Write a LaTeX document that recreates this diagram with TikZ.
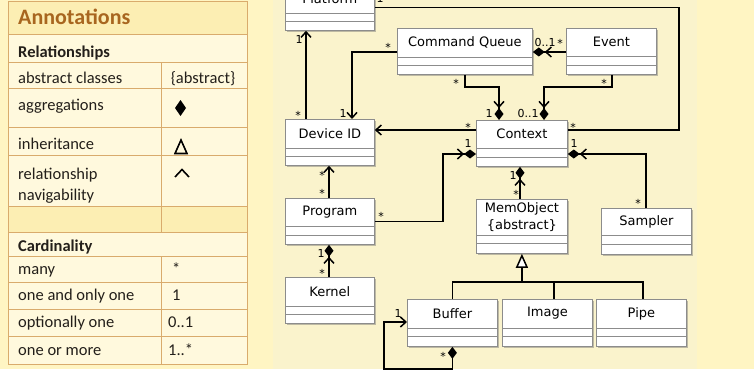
\documentclass[tikz,border=0pt]{standalone}
\usepackage{fontspec}
\setmainfont{Carlito}
\newfontfamily\diagfont{DejaVu Sans}
\usetikzlibrary{arrows.meta,calc,shadows}

\definecolor{outerbg}{HTML}{FFF5C3}
\definecolor{panelbg}{HTML}{FAF3CC}
\definecolor{tblborder}{HTML}{D9AB6C}
\definecolor{tblhead}{HTML}{FCEEB3}
\definecolor{tblcell}{HTML}{FFF9DD}
\definecolor{tbltitle}{HTML}{A8661F}
\definecolor{tbltext}{HTML}{231F1A}
\definecolor{boxline}{HTML}{8C8C8C}

\tikzset{
  classbox/.style={draw=boxline, fill=white, line width=0.8pt, inner sep=0pt,
    drop shadow={shadow xshift=1.8pt, shadow yshift=-1.8pt, opacity=0.45, fill=black!55}},
  compline/.style={draw=boxline, line width=0.8pt},
  classname/.style={font=\diagfont\fontsize{13}{17}\selectfont, align=center, inner sep=0pt},
  mult/.style={font=\diagfont\fontsize{11}{13}\selectfont, inner sep=0pt, anchor=base},
  conn/.style={draw=black, line width=1.5pt},
  nav/.style={conn, -{Straight Barb[length=5.5pt,width=10pt]}},
  agg/.style={conn, -{Straight Barb[length=5.5pt,width=10pt] Diamond[length=12pt,width=9pt]}},
  genhead/.style={conn, -{Triangle[length=14pt,width=12pt,fill=white]}},
  tblrule/.style={draw=tblborder, line width=1pt},
  tbltxt/.style={font=\fontsize{16.5}{21}\selectfont, text=tbltext, inner sep=0pt, anchor=base west},
  tblbold/.style={tbltxt, font=\fontsize{16.5}{21}\selectfont\bfseries},
  tbltitlefont/.style={tbltxt, font=\fontsize{22}{26}\selectfont\bfseries, text=tbltitle},
  tblsym/.style={fill=black, draw=none},
}

% class box: name, left x, top y, width, height, name-compartment height, label
\newcommand{\umlclass}[7]{%
  \node[classbox, minimum width=#4pt, minimum height=#5pt, anchor=north west] (#1) at (#2,#3) {};
  \draw[compline] ($(#1.north west)+(0,#6)$) -- ($(#1.north east)+(0,#6)$);
  \draw[compline] ($(#1.north west)+(0,#6+8.5)$) -- ($(#1.north east)+(0,#6+8.5)$);
  \node[classname] (#1-name) at ($(#1.north)+(0,#6/2)$) {#7};
}

\begin{document}
\begin{tikzpicture}[x=1pt, y=-1pt]
\useasboundingbox (0,0) rectangle (754,369);
\clip (0,0) rectangle (754,369);

% backgrounds
\fill[outerbg] (0,0) rectangle (754,369);
\fill[panelbg] (273,0) rectangle (697,369);

% ---------- annotation table ----------
\fill[tblcell] (8,2) rectangle (247,364);
\fill[tblhead] (8,2) rectangle (247,35);
\fill[tblhead] (8,206) rectangle (247,232);
\foreach \yy in {35,62,88,127,155,206,232,256,282,309,336}
  \draw[tblrule] (8,\yy) -- (247,\yy);
\draw[tblrule] (161,62) -- (161,232);
\draw[tblrule] (161,256) -- (161,364);
\draw[tblrule] (8,2) rectangle (247,364);

\node[tbltitlefont] (t-title) at (18,25) {Annotations};
\node[tblbold] (t-rel) at (18,57) {Relationships};
\node[tbltxt] (t-abs) at (18,83) {abstract classes};
\node[tbltxt, anchor=base] (t-abs-v) at (203,83) {\{abstract\}};
\node[tbltxt] (t-agg) at (18,110) {aggregations};
\node[tbltxt] (t-inh) at (18,149) {inheritance};
\node[tbltxt] (t-nav1) at (18,179) {relationship};
\node[tbltxt] (t-nav2) at (18,200) {navigability};
\node[tblbold] (t-card) at (18,251) {Cardinality};
\node[tbltxt] (t-many) at (18,274) {many};
\node[tbltxt] (t-one) at (18,300.5) {one and only one};
\node[tbltxt] (t-opt) at (18,327.5) {optionally one};
\node[tbltxt] (t-more) at (18,355) {one or more};
\node[tbltxt] (t-many-v) at (172,274) {*};
\node[tbltxt] (t-one-v) at (172,300.5) {1};
\node[tbltxt] (t-opt-v) at (168,327.5) {0..1};
\node[tbltxt] (t-more-v) at (168,355) {1..*};

% relationship symbols
\fill[tblsym] (180.5,100) -- (186,108) -- (180.5,116) -- (175,108) -- cycle;
\draw[line width=1.6pt, line join=miter] (181,140) -- (187,153.5) -- (175,153.5) -- cycle;
\draw[line width=1.6pt] (175,177) -- (182,169.5) -- (189,177);

% ---------- class diagram ----------
\umlclass{platform}{285}{-16}{89}{46}{29}{Platform}
\umlclass{devid}{285}{119}{89}{46}{29}{Device ID}
\umlclass{cq}{397}{28}{135}{46}{29}{Command Queue}
\umlclass{event}{566}{28}{90}{46}{28.5}{Event}
\umlclass{context}{476}{120}{91}{46}{28.5}{Context}
\umlclass{memobj}{476}{199}{91}{54}{36}{MemObject\\\{abstract\}}
\umlclass{sampler}{601}{208}{90}{46}{27.5}{Sampler}
\umlclass{program}{285}{198}{89}{46}{28.5}{Program}
\umlclass{kernel}{285}{277}{89}{46}{29}{Kernel}
\umlclass{buffer}{407}{299}{90}{47}{29}{Buffer}
\umlclass{image}{502}{299}{90}{47}{29}{Image}
\umlclass{pipe}{596}{299}{90}{47}{29}{Pipe}

% associations
\draw[conn] (platform.east) -| ($(context.north east)+(111,10)$) -- ($(context.north east)+(0,10)$);
\draw[nav] ($(devid.north west)+(21,0)$) -- ($(platform.south west)+(21,0)$);
\draw[nav] ($(cq.north west)+(0,24)$) -| ($(devid.north west)+(67,0)$);
\draw[agg] ($(cq.south west)+(68,0)$) |- ($(context.north west)+(23,-33)$) -- ($(context.north west)+(23,0)$);
\draw[agg] ($(event.north west)+(0,24)$) -- ($(cq.north east)+(0,24)$);
\draw[agg] ($(event.south west)+(46,0)$) |- ($(context.north west)+(68,-33)$) -- ($(context.north west)+(68,0)$);
\draw[nav] ($(context.north west)+(0,10)$) -- ($(devid.north east)+(0,11)$);
\draw[agg] (program.east) -| ($(context.north west)+(-33,34)$) -- ($(context.north west)+(0,34)$);
\draw[nav] ($(program.north west)+(44,0)$) -- ($(devid.south west)+(44,0)$);
\draw[agg] ($(kernel.north west)+(44,0)$) -- ($(program.south west)+(44,0)$);
\draw[agg] ($(memobj.north west)+(44,0)$) -- ($(context.south west)+(44,0)$);
\draw[agg] ($(sampler.north west)+(45,0)$) |- ($(context.north east)+(0,34)$);

% generalisation
\draw[conn] (buffer.north) |- ($(pipe.north west)+(47,-17)$) -- ($(pipe.north west)+(47,0)$);
\draw[conn] ($(image.north west)+(52,0)$) -- ($(image.north west)+(52,-17)$);
\draw[genhead] ($(memobj.south)+(0,29)$) -- (memobj.south);

% buffer self aggregation
\draw[conn, {Diamond[length=12pt,width=9pt]}-{Straight Barb[length=5.5pt,width=10pt]}]
  (buffer.south) -- ++(0,22) -| ($(buffer.north west)+(-23,23)$) -- ($(buffer.north west)+(0,23)$);

% multiplicities
\node[mult] (m1) at (380,3) {1};
\node[mult] (m2) at (573,131) {*};
\node[mult] (m3) at (299,44) {1};
\node[mult] (m4) at (298,119) {*};
\node[mult] (m5) at (388,52) {*};
\node[mult] (m6) at (343,117) {1};
\node[mult] (m7) at (456,87) {*};
\node[mult] (m8) at (489,117) {1};
\node[mult] (m9) at (545,46) {0..1};
\node[mult] (m10) at (560,48) {*};
\node[mult] (m11) at (604,87) {*};
\node[mult] (m12) at (528,117) {0..1};
\node[mult] (m13) at (468,131) {*};
\node[mult] (m14) at (468,147) {1};
\node[mult] (m15) at (381,220) {*};
\node[mult] (m16) at (322,179) {*};
\node[mult] (m17) at (322,197) {*};
\node[mult] (m18) at (321,257) {1};
\node[mult] (m19) at (322,277) {*};
\node[mult] (m20) at (513,179) {1};
\node[mult] (m21) at (516,198) {*};
\node[mult] (m22) at (574,147) {1};
\node[mult] (m23) at (638,207) {*};
\node[mult] (m24) at (398,317) {1};
\node[mult] (m25) at (443,360) {*};
\end{tikzpicture}
\end{document}
